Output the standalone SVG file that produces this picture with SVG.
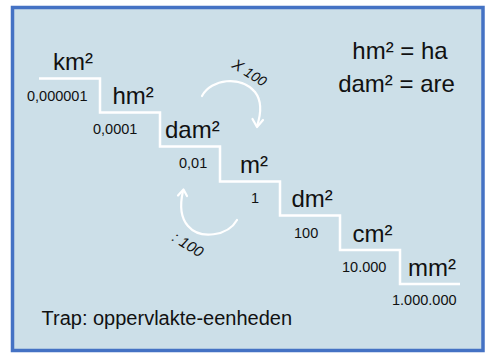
<svg xmlns="http://www.w3.org/2000/svg" width="485" height="353" viewBox="0 0 485 353">
  <style>
    text { font-family: "Liberation Sans", Arial, sans-serif; fill: #111; }
    .unit { font-size: 24px; }
    .num { font-size: 14.5px; }
    .rule { font-size: 24px; text-anchor: middle; }
    .op { font-size: 15px; font-style: italic; }
    .stair { fill: none; stroke: #fff; stroke-width: 2.5; }
    .arc { fill: none; stroke: #fff; stroke-width: 2.2; stroke-linecap: round; }
    .head { fill: none; stroke: #fff; stroke-width: 2.2; stroke-linecap: round; stroke-linejoin: round; }
  </style>

  <!-- panel -->
  <rect x="12.5" y="7.5" width="470.5" height="343" fill="#CCDFE8" stroke="#4472C4" stroke-width="3.5"/>

  <g id="connectors">
    <!-- staircase -->
    <polyline class="stair" points="39,78.5 100,78.5 100,112.5 160,112.5 160,146.5 220,146.5 220,181.5 280,181.5 280,215.5 340,215.5 340,250 400,250 400,284 460,284"/>
    <!-- x 100 arrow (down the stairs) -->
    <path class="arc" d="M202,96 C211,79 241,75 255,92 C262,101 261,114 257,126"/>
    <polyline class="head" points="252.5,119 257,127 263,120"/>
    <!-- : 100 arrow (up the stairs) -->
    <path class="arc" d="M237,220 C228,236 200,240 188,226 C180,217 180,204 183,191"/>
    <polyline class="head" points="178,195.5 183.5,189.5 187,196"/>
  </g>

  <g id="op-multiply">
    <text class="op" transform="translate(231,67) rotate(32)">X <tspan font-size="14">100</tspan></text>
  </g>
  <g id="op-divide">
    <text class="op" transform="translate(171,240) rotate(32)">: 100</text>
  </g>

  <g id="km2">
    <text class="unit" x="53" y="70">km²</text>
    <text class="num" x="27" y="101">0,000001</text>
  </g>
  <g id="hm2">
    <text class="unit" x="112.5" y="103.5">hm²</text>
    <text class="num" x="93" y="134">0,0001</text>
  </g>
  <g id="dam2">
    <text class="unit" x="165" y="137.5">dam²</text>
    <text class="num" x="179" y="168">0,01</text>
  </g>
  <g id="m2">
    <text class="unit" x="240" y="172.5">m²</text>
    <text class="num" x="251" y="203">1</text>
  </g>
  <g id="dm2">
    <text class="unit" x="291.5" y="206.5">dm²</text>
    <text class="num" x="294" y="237.5">100</text>
  </g>
  <g id="cm2">
    <text class="unit" x="352.5" y="241.5">cm²</text>
    <text class="num" x="342" y="271.5">10.000</text>
  </g>
  <g id="mm2">
    <text class="unit" x="408" y="276">mm²</text>
    <text class="num" x="392" y="305">1.000.000</text>
  </g>

  <g id="equivalences">
    <text class="rule" x="400" y="58.5">hm² = ha</text>
    <text class="rule" x="396.5" y="91.5">dam² = are</text>
  </g>

  <g id="caption">
    <text x="41.5" y="325" font-size="20">Trap: oppervlakte-eenheden</text>
  </g>
</svg>
